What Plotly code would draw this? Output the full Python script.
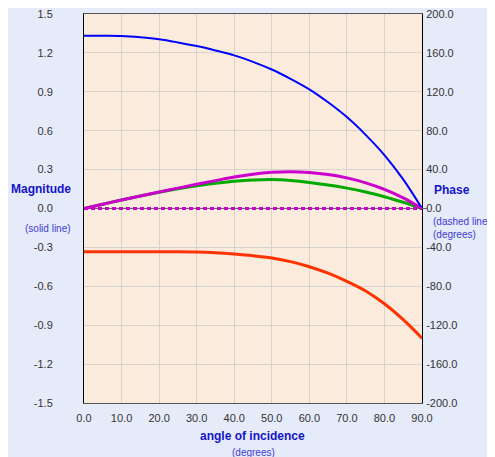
import plotly.graph_objects as go

angles = [0, 5, 10, 15, 20, 25, 30, 35, 40, 45, 50, 55, 60, 65, 70, 75, 80, 85, 90]
blue_mag = [1.333, 1.332, 1.330, 1.320, 1.305, 1.281, 1.253, 1.219, 1.181, 1.131, 1.072, 1.000, 0.919, 0.819, 0.705, 0.568, 0.412, 0.224, 0.0]
red_mag = [-0.333, -0.333, -0.333, -0.333, -0.333, -0.333, -0.335, -0.341, -0.351, -0.364, -0.382, -0.410, -0.449, -0.499, -0.562, -0.636, -0.735, -0.857, -1.0]
green_mag = [0.0, 0.033, 0.066, 0.097, 0.126, 0.152, 0.175, 0.195, 0.210, 0.220, 0.224, 0.216, 0.201, 0.181, 0.157, 0.127, 0.091, 0.048, 0.0]
magenta_mag = [0.0, 0.033, 0.066, 0.097, 0.127, 0.157, 0.187, 0.215, 0.243, 0.265, 0.279, 0.284, 0.278, 0.262, 0.236, 0.198, 0.148, 0.082, 0.0]
phase_deg = [0.0] * len(angles)

x_ticks = [0, 10, 20, 30, 40, 50, 60, 70, 80, 90]
x_labels = ["0.0", "10.0", "20.0", "30.0", "40.0", "50.0", "60.0", "70.0", "80.0", "90.0"]
y_ticks = [1.5, 1.2, 0.9, 0.6, 0.3, 0.0, -0.3, -0.6, -0.9, -1.2, -1.5]
y_labels = ["1.5", "1.2", "0.9", "0.6", "0.3", "0.0", "-0.3", "-0.6", "-0.9", "-1.2", "-1.5"]
y2_ticks = [200, 160, 120, 80, 40, 0, -40, -80, -120, -160, -200]
y2_labels = ["200.0", "160.0", "120.0", "80.0", "40.0", "0.0", "-40.0", "-80.0", "-120.0", "-160.0", "-200.0"]

fig = go.Figure()
fig.add_trace(go.Scatter(x=angles, y=phase_deg, yaxis="y2", mode="lines",
                         line=dict(color="#CC00CC", width=3, dash="4px,3px"), showlegend=False))
fig.add_trace(go.Scatter(x=angles, y=green_mag, mode="lines", line=dict(color="#00AA00", width=3, shape="spline"), showlegend=False))
fig.add_trace(go.Scatter(x=angles, y=magenta_mag, mode="lines", line=dict(color="#CC00CC", width=3, shape="spline"), showlegend=False))
fig.add_trace(go.Scatter(x=angles, y=red_mag, mode="lines", line=dict(color="#FF3300", width=3, shape="spline"), showlegend=False))
fig.add_trace(go.Scatter(x=angles, y=blue_mag, mode="lines", line=dict(color="#0000FF", width=2, shape="spline"), showlegend=False))

tickfont = dict(family="Liberation Sans, Arial, sans-serif", size=11, color="#333333")
fig.update_layout(
    width=495, height=457,
    margin=dict(l=76, r=81, t=6, b=62),
    paper_bgcolor="#E6EBFA",
    plot_bgcolor="#FAEBDC",
    xaxis=dict(range=[0, 90], tickvals=x_ticks, ticktext=x_labels, showgrid=True, gridcolor="#D6D3CE",
               gridwidth=1, zeroline=False, showline=True, linecolor="#555555", linewidth=1, mirror=True,
               ticks="", tickfont=tickfont, ticklabelstandoff=5, ticklabeloverflow="allow", automargin=False),
    yaxis=dict(range=[-1.5, 1.5], tickvals=y_ticks, ticktext=y_labels, showgrid=True, gridcolor="#D6D3CE",
               gridwidth=1, zeroline=True, zerolinecolor="#666666", zerolinewidth=1, showline=True,
               linecolor="#000000", linewidth=1, mirror=True, ticks="", tickfont=tickfont, ticklabelstandoff=28,
               ticklabeloverflow="allow", automargin=False),
    yaxis2=dict(range=[-200, 200], tickvals=y2_ticks, ticktext=y2_labels, overlaying="y", side="right",
                showgrid=False, zeroline=False, showline=True, linecolor="#000000", linewidth=1,
                ticks="", tickfont=tickfont, ticklabelstandoff=1, ticklabeloverflow="allow", automargin=False),
    shapes=[
        dict(type="line", xref="paper", yref="y", x0=1, x1=1 + 5/338, y0=0, y1=0,
             line=dict(color="#666666", width=1)),
    ],
)

lab = dict(family="Liberation Sans, Arial, sans-serif", size=12, color="#1414C8")
sub = dict(family="Liberation Sans, Arial, sans-serif", size=10, color="#3C3CD2")
fig.add_annotation(text="<b>Magnitude</b>", xref="paper", yref="paper", x=-75/338, y=(395-181)/389,
                   xanchor="left", yanchor="middle", showarrow=False, font=lab)
fig.add_annotation(text="(solid line)", xref="paper", yref="paper", x=-61/338, y=(395-220)/389,
                   xanchor="left", yanchor="middle", showarrow=False, font=sub)
fig.add_annotation(text="<b>Phase</b>", xref="paper", yref="paper", x=1 + 10/338, y=(395-182)/389,
                   xanchor="left", yanchor="middle", showarrow=False, font=lab)
fig.add_annotation(text="(dashed line)<br>(degrees)", xref="paper", yref="paper", x=1 + 9/338, y=(395-220)/389,
                   xanchor="left", yanchor="middle", showarrow=False, font=sub, align="left")
fig.add_annotation(text="<b>angle of incidence</b>", xref="paper", yref="paper", x=(252-84)/338, y=-(436-403)/389,
                   xanchor="center", yanchor="middle", showarrow=False, font=lab)
fig.add_annotation(text="(degrees)", xref="paper", yref="paper", x=(253-84)/338, y=-(452-403)/389,
                   xanchor="center", yanchor="middle", showarrow=False, font=sub)

fig.write_html("out.html")
